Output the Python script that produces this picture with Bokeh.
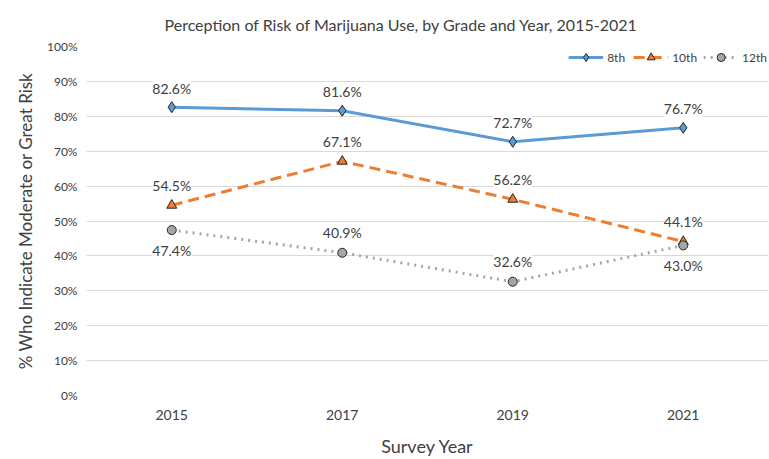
from bokeh.plotting import figure
from bokeh.models import ColumnDataSource, LabelSet, Legend, LegendItem, NumeralTickFormatter, FactorRange
from bokeh.core.properties import value
from bokeh.embed import file_html
from bokeh.resources import INLINE

years = ["2015", "2017", "2019", "2021"]
grade8 = [82.6, 81.6, 72.7, 76.7]
grade10 = [54.5, 67.1, 56.2, 44.1]
grade12 = [47.4, 40.9, 32.6, 43.0]
y_ticks = [0, 10, 20, 30, 40, 50, 60, 70, 80, 90, 100]
title_text = "Perception of Risk of Marijuana Use, by Grade and Year, 2015-2021"

FONT = "Lato"
TXT = "#404040"

p = figure(width=768, height=459, x_range=FactorRange(*years), y_range=(0, 1),
           output_backend="svg", toolbar_location=None,
           min_border_left=86, min_border_right=0, min_border_top=46, min_border_bottom=64)
p.outline_line_color = None
p.xgrid.grid_line_color = None
p.ygrid.grid_line_color = "#d9d9d9"
p.ygrid.grid_line_width = 1
p.yaxis.ticker = [t / 100 for t in y_ticks]
p.yaxis.formatter = NumeralTickFormatter(format="0%")
for ax in (p.xaxis, p.yaxis):
    ax.axis_line_color = None
    ax.major_tick_line_color = None
    ax.minor_tick_line_color = None
    ax.major_tick_out = 0
    ax.major_tick_in = 0
    ax.minor_tick_out = 0
    ax.major_label_text_font = FONT
    ax.major_label_text_color = TXT
    ax.axis_label_text_font = FONT
    ax.axis_label_text_font_style = "normal"
    ax.axis_label_text_color = TXT
    ax.axis_label_text_font_size = "18px"
p.yaxis.major_label_text_font_size = "12px"
p.xaxis.major_label_text_font_size = "14px"
p.yaxis.major_label_standoff = 9
p.xaxis.major_label_standoff = 14
p.xaxis.axis_label = "Survey Year"
p.yaxis.axis_label = "% Who Indicate Moderate or Great Risk"
p.xaxis.axis_label_standoff = 12
p.yaxis.axis_label_standoff = 8
p.yaxis.axis_label_text_font_size = "17px"

p.title.text = title_text
p.title.text_font = FONT
p.title.text_font_size = "16px"
p.title.text_font_style = "normal"
p.title.text_color = TXT
p.title.align = "left"
p.title.offset = 78
p.title.standoff = 25

series = [
    ("8th", grade8, "#5B9BD5", "solid", "diamond", 11, [19] * 4),
    ("10th", grade10, "#ED7D31", "11 6", "triangle", 10, [20] * 4),
    ("12th", grade12, "#A5A5A5", "2 5", "circle", 9, [-20, 20, 20, -20]),
]
items = []
for name, vals, color, dash, marker, size, offs in series:
    src = ColumnDataSource(dict(x=years, y=[v / 100 for v in vals],
                                lab=[f"{v:.1f}%" for v in vals], off=offs))
    l = p.line("x", "y", source=src, line_color=color, line_width=3, line_dash=dash)
    s = p.scatter("x", "y", source=src, marker=marker, size=size, fill_color=color,
                  line_color="#262626", line_width=1)
    labels = LabelSet(x="x", y="y", text="lab", source=src, y_offset="off",
                      text_align="center", text_baseline="middle",
                      text_font=value(FONT), text_font_size=value("14px"), text_color=TXT,
                      background_fill_color="white")
    p.add_layout(labels)
    items.append(LegendItem(label=name, renderers=[l, s]))

legend = Legend(items=items, orientation="horizontal", location="top_right",
                label_text_font=FONT, label_text_font_size="12px", label_text_color=TXT,
                border_line_color=None, background_fill_alpha=0,
                glyph_width=35, spacing=6, label_standoff=4, padding=2, margin=1)
p.add_layout(legend)

open("out.html", "w").write(file_html(p, INLINE))
